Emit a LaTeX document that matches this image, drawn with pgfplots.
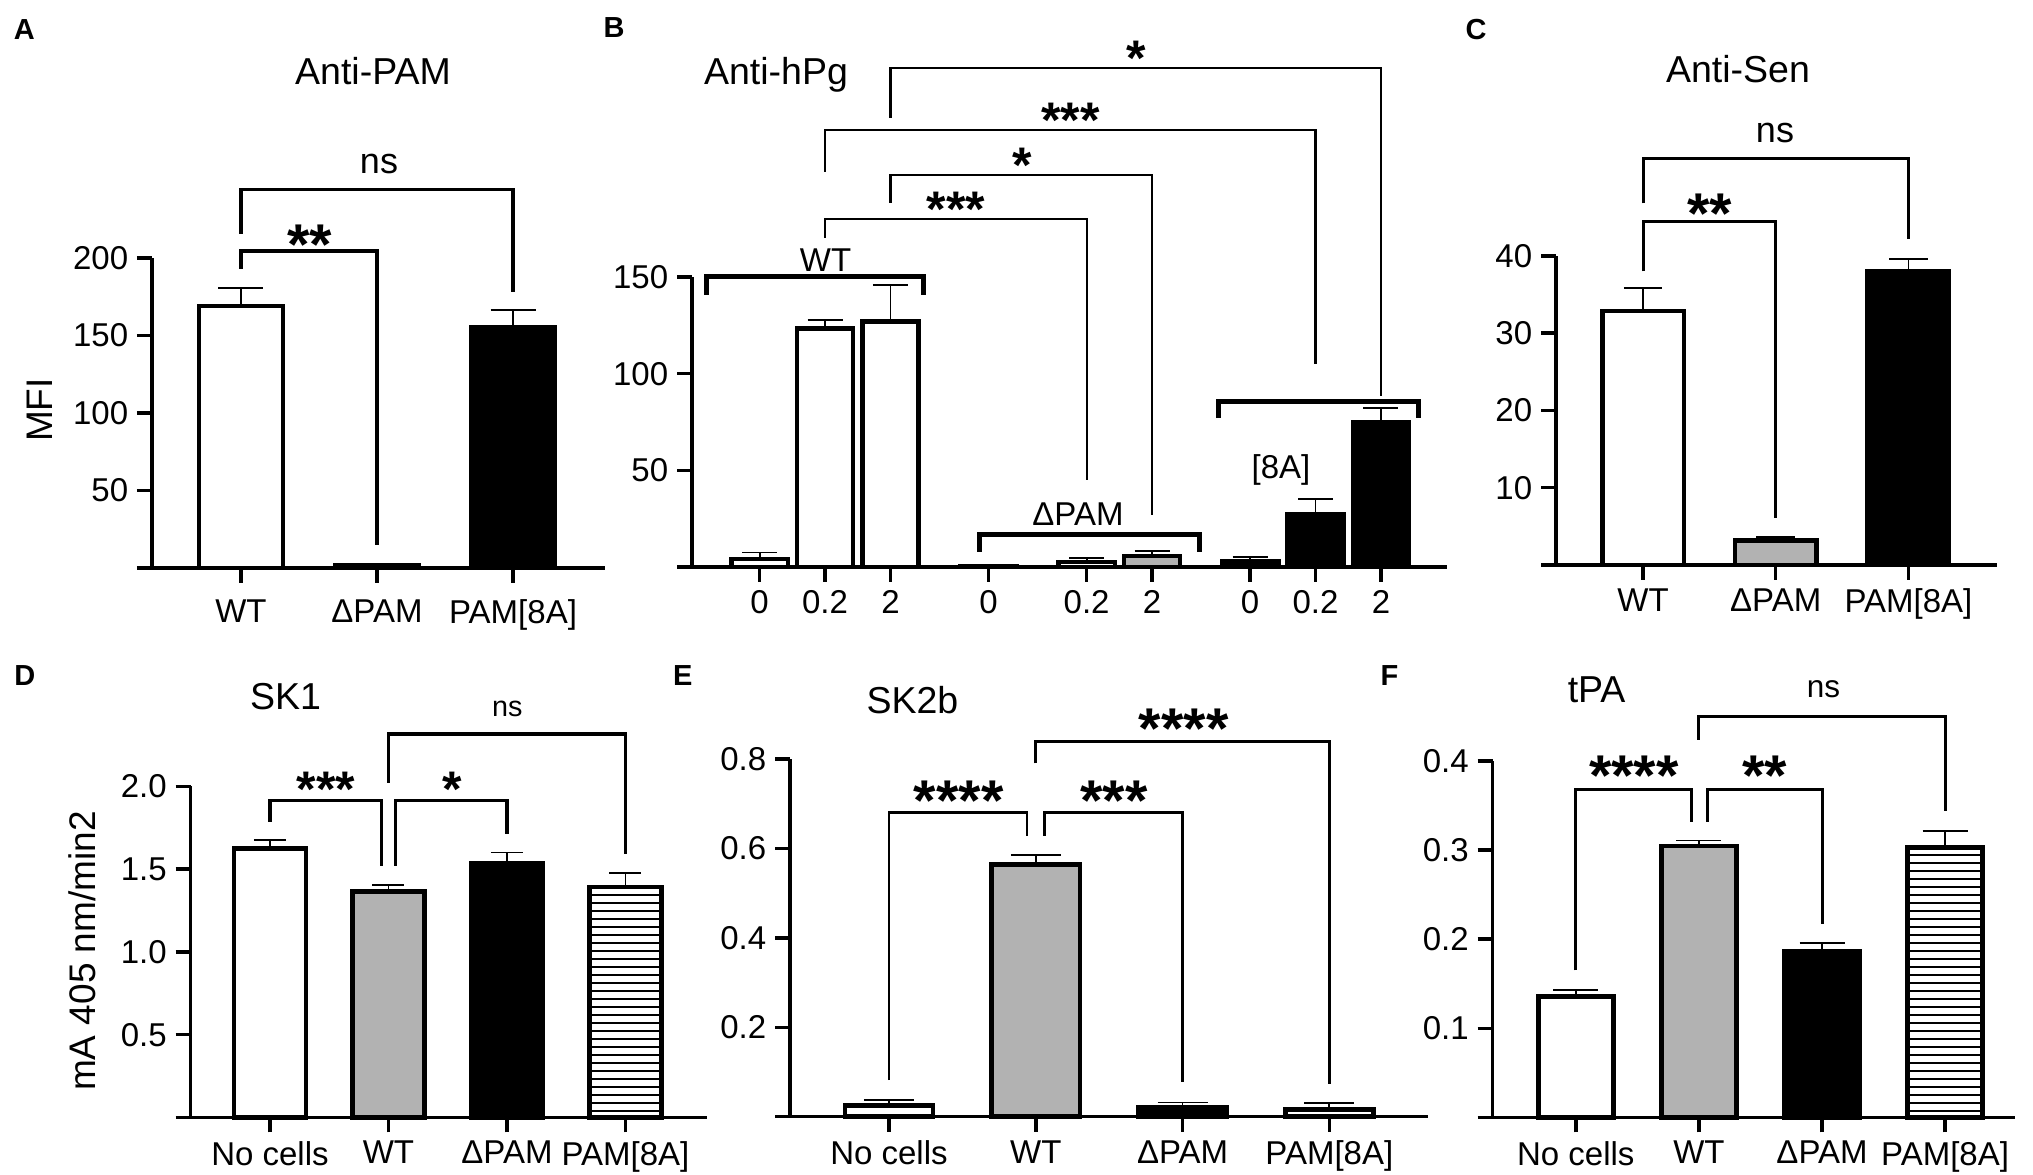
\documentclass[border=0pt]{standalone}
\usepackage{fontspec}
\setmainfont{Liberation Sans}
\usepackage{pgfplots}
\pgfplotsset{compat=1.18}
\usetikzlibrary{patterns.meta}
\definecolor{pgray}{RGB}{178,178,178}
\newcommand\tk{\fontsize{13.2}{15}\selectfont}
\newcommand\ttl{\fontsize{15}{17}\selectfont}
\newcommand\lett{\fontsize{11.6}{13}\selectfont\bfseries}
\newcommand\stL{\fontsize{23}{25}\selectfont\bfseries}
\newcommand\stS{\fontsize{20}{22}\selectfont\bfseries}
\pgfplotsset{
 prism/.style={
  anchor=south west, scale only axis, clip=false, enlargelimits=false,
  axis x line*=bottom, axis y line*=left,
  axis line style={line width=1.4pt, black},
  tick align=outside, major tick length=6pt,
  tick style={line width=1.4pt, black},
  ymin=0,
  tick label style={font=\tk},
  /pgf/number format/assume math mode=true,
 },
 pbar/.style={ybar, bar shift=0pt, draw=black, line width=1.8pt,
   /pgfplots/error bars/y dir=plus, /pgfplots/error bars/y explicit,
   /pgfplots/error bars/error bar style={line width=0.7pt, black, solid},
   /pgfplots/error bars/error mark=|,
   /pgfplots/error bars/error mark options={line width=0.7pt, mark size=#1, black}},
 stripes/.style={pattern={Lines[angle=0,distance=3.2pt,line width=0.6pt]}, pattern color=black},
}
\newcommand\ext{\draw[line width=1.4pt] (rel axis cs:0,0) -- ++(-6pt,0);}
\begin{document}
\begin{tikzpicture}
\useasboundingbox (0,0) rectangle (813.2pt,470pt);
% ---------------- A
\begin{axis}[prism, at={(60.8pt,242.8pt)}, width=181.2pt, height=124pt,
  xmin=-0.654, xmax=2.676, ymax=200,
  xtick={0,1,2}, xticklabels={WT,ΔPAM,PAM[8A]},
  xticklabel style={yshift=-3pt},
  ytick={0,50,100,150,200}, yticklabels={,50,100,150,200}]
\ext
\addplot[pbar=9pt, fill=white, bar width=0.615] coordinates {(0,169) +- (0,11.5)};
\addplot[pbar=9pt, fill=pgray, bar width=0.615] coordinates {(1,2) +- (0,0.8)};
\addplot[pbar=9pt, fill=black, bar width=0.615] coordinates {(2,155.5) +- (0,11)};
\draw[line width=1.25pt] (axis cs:0,193)--(axis cs:0,204.5)--(axis cs:1,204.5)--(axis cs:1,15);
\draw[line width=1.25pt] (axis cs:0,215.5)--(axis cs:0,244)--(axis cs:2,244)--(axis cs:2,178);
\end{axis}
% ---------------- B
\begin{axis}[prism, at={(276.8pt,243.2pt)}, width=302pt, height=116pt,
  xmin=-1.034, xmax=10.51, ymax=150,
  xtick={0,1,2,3.5,5,6,7.5,8.5,9.5}, xticklabels={0,0.2,2,0,0.2,2,0,0.2,2},
  ytick={0,50,100,150}, yticklabels={,50,100,150}]
\ext
\addplot[pbar=7pt, fill=white, bar width=0.86] coordinates {(0,4.1) +- (0,3.4)};
\addplot[pbar=7pt, fill=white, bar width=0.86] coordinates {(1,123.4) +- (0,4.2)};
\addplot[pbar=7pt, fill=white, bar width=0.86] coordinates {(2,127.1) +- (0,18.8)};
\addplot[pbar=7pt, fill=white, bar width=0.86] coordinates {(3.5,0.5) +- (0,0)};
\addplot[pbar=7pt, fill=white, bar width=0.86] coordinates {(5,2.6) +- (0,1.9)};
\addplot[pbar=7pt, fill=pgray, bar width=0.86] coordinates {(6,5.6) +- (0,2.5)};
\addplot[pbar=7pt, fill=black, bar width=0.86] coordinates {(7.5,3.1) +- (0,1.9)};
\addplot[pbar=7pt, fill=black, bar width=0.86] coordinates {(8.5,27.3) +- (0,7.7)};
\addplot[pbar=7pt, fill=black, bar width=0.86] coordinates {(9.5,75) +- (0,7.4)};
\draw[line width=2pt] (axis cs:-0.82,140.8)--(axis cs:-0.82,150)--(axis cs:2.5,150)--(axis cs:2.5,140.8);
\draw[line width=2pt] (axis cs:3.355,7.9)--(axis cs:3.355,16.6)--(axis cs:6.72,16.6)--(axis cs:6.72,7.9);
\draw[line width=2pt] (axis cs:7.02,77)--(axis cs:7.02,85.8)--(axis cs:10.07,85.8)--(axis cs:10.07,77);
\draw[line width=0.9pt] (axis cs:1,170.3)--(axis cs:1,179.8)--(axis cs:5,179.8)--(axis cs:5,45.2);
\draw[line width=0.9pt] (axis cs:2,188.4)--(axis cs:2,202.9)--(axis cs:6,202.9)--(axis cs:6,26.9);
\draw[line width=0.9pt] (axis cs:1,204.5)--(axis cs:1,225.9)--(axis cs:8.5,225.9)--(axis cs:8.5,105.1);
\draw[line width=0.9pt] (axis cs:2,232.4)--(axis cs:2,258.1)--(axis cs:9.5,258.1)--(axis cs:9.5,88.5);
\end{axis}
% ---------------- C
\begin{axis}[prism, at={(622.4pt,244pt)}, width=176.2pt, height=123.6pt,
  xmin=-0.656, xmax=2.664, ymax=40,
  xtick={0,1,2}, xticklabels={WT,ΔPAM,PAM[8A]},
  ytick={0,10,20,30,40}, yticklabels={,10,20,30,40}]
\ext
\addplot[pbar=7.7pt, fill=white, bar width=0.615] coordinates {(0,32.9) +- (0,3.0)};
\addplot[pbar=7.7pt, fill=pgray, bar width=0.615] coordinates {(1,3.2) +- (0,0.4)};
\addplot[pbar=7.7pt, fill=black, bar width=0.615] coordinates {(2,38.0) +- (0,1.6)};
\draw[line width=1.2pt] (axis cs:0,38.0)--(axis cs:0,44.46)--(axis cs:1,44.46)--(axis cs:1,6.1);
\draw[line width=1.2pt] (axis cs:0,46.8)--(axis cs:0,52.6)--(axis cs:2,52.6)--(axis cs:2,42.15);
\end{axis}
% ---------------- D
\begin{axis}[prism, at={(76.24pt,23.04pt)}, width=206.56pt, height=132.4pt,
  xmin=-0.67, xmax=3.688, ymax=2.0,
  xtick={0,1,2,3}, xticklabels={No cells,WT,ΔPAM,PAM[8A]},
  ytick={0,0.5,1.0,1.5,2.0}, yticklabels={,0.5,1.0,1.5,2.0}]
\ext
\addplot[pbar=6.4pt, fill=white, bar width=0.61] coordinates {(0,1.626) +- (0,0.049)};
\addplot[pbar=6.4pt, fill=pgray, bar width=0.61] coordinates {(1,1.366) +- (0,0.039)};
\addplot[pbar=6.4pt, fill=black, bar width=0.61] coordinates {(2,1.533) +- (0,0.067)};
\addplot[pbar=6.4pt, stripes, bar width=0.61] coordinates {(3,1.391) +- (0,0.086)};
\draw[line width=1.3pt] (axis cs:0,1.786)--(axis cs:0,1.915)--(axis cs:0.94,1.915)--(axis cs:0.94,1.519);
\draw[line width=1.3pt] (axis cs:1.06,1.519)--(axis cs:1.06,1.915)--(axis cs:2,1.915)--(axis cs:2,1.712);
\draw[line width=1.3pt] (axis cs:1,2.022)--(axis cs:1,2.317)--(axis cs:3,2.317)--(axis cs:3,1.59);
\end{axis}
% ---------------- E
\begin{axis}[prism, at={(316pt,23.32pt)}, width=255.2pt, height=143.08pt,
  xmin=-0.674, xmax=3.672, ymax=0.8,
  xtick={0,1,2,3}, xticklabels={No cells,WT,ΔPAM,PAM[8A]},
  ytick={0,0.2,0.4,0.6,0.8}, yticklabels={,0.2,0.4,0.6,0.8}]
\ext
\addplot[pbar=10pt, fill=white, bar width=0.6] coordinates {(0,0.025) +- (0,0.013)};
\addplot[pbar=10pt, fill=pgray, bar width=0.6] coordinates {(1,0.564) +- (0,0.021)};
\addplot[pbar=10pt, fill=black, bar width=0.6] coordinates {(2,0.021) +- (0,0.011)};
\addplot[pbar=10pt, stripes, bar width=0.6] coordinates {(3,0.016) +- (0,0.014)};
\draw[line width=1.1pt] (axis cs:0,0.0817)--(axis cs:0,0.6797)--(axis cs:0.94,0.6797)--(axis cs:0.94,0.628);
\draw[line width=1.1pt] (axis cs:1.06,0.628)--(axis cs:1.06,0.6797)--(axis cs:2,0.6797)--(axis cs:2,0.0776);
\draw[line width=1.1pt] (axis cs:1,0.790)--(axis cs:1,0.8396)--(axis cs:3,0.8396)--(axis cs:3,0.0738);
\end{axis}
% ---------------- F
\begin{axis}[prism, at={(597pt,23.04pt)}, width=209pt, height=142.6pt,
  xmin=-0.677, xmax=3.568, ymax=0.4,
  xtick={0,1,2,3}, xticklabels={No cells,WT,ΔPAM,PAM[8A]},
  ytick={0,0.1,0.2,0.3,0.4}, yticklabels={,0.1,0.2,0.3,0.4}]
\ext
\addplot[pbar=9pt, fill=white, bar width=0.61] coordinates {(0,0.1355) +- (0,0.0075)};
\addplot[pbar=9pt, fill=pgray, bar width=0.61] coordinates {(1,0.3045) +- (0,0.0063)};
\addplot[pbar=9pt, fill=black, bar width=0.61] coordinates {(2,0.1865) +- (0,0.0095)};
\addplot[pbar=9pt, stripes, bar width=0.61] coordinates {(3,0.303) +- (0,0.018)};
\draw[line width=1.2pt] (axis cs:0,0.1649)--(axis cs:0,0.3684)--(axis cs:0.94,0.3684)--(axis cs:0.94,0.3318);
\draw[line width=1.2pt] (axis cs:1.07,0.3318)--(axis cs:1.07,0.3684)--(axis cs:2,0.3684)--(axis cs:2,0.2174);
\draw[line width=1.2pt] (axis cs:1,0.4239)--(axis cs:1,0.4498)--(axis cs:3,0.4498)--(axis cs:3,0.3439);
\end{axis}
% ---------------- texts (in reference pixels)
\begin{scope}[x=0.4pt,y=0.4pt, every node/.style={inner sep=0pt}]
\node[anchor=base west, font=\lett] at (13.4,1135.6) {A};
\node[anchor=base west, font=\lett] at (603,1137.7) {B};
\node[anchor=base west, font=\lett] at (1465,1135.6) {C};
\node[anchor=base west, font=\lett] at (13.8,489.5) {D};
\node[anchor=base west, font=\lett] at (672.7,489.5) {E};
\node[anchor=base west, font=\lett] at (1380,489.5) {F};
\node[anchor=base, font=\ttl] at (373,1090) {Anti-PAM};
\node[anchor=base, font=\ttl] at (776,1090) {Anti-hPg};
\node[anchor=base, font=\ttl] at (1738,1092) {Anti-Sen};
\node[anchor=base, font=\ttl] at (285.6,465) {SK1};
\node[anchor=base, font=\ttl] at (912.4,461.2) {SK2b};
\node[anchor=base, font=\ttl] at (1596.6,472) {tPA};
\node[rotate=90, font=\fontsize{14.8}{16}\selectfont] at (40,765) {MFI};
\node[rotate=90, font=\fontsize{14.8}{16}\selectfont] at (82.7,224) {mA 405 nm/min2};
% stars / ns
\node[anchor=base, font=\stL] at (310,910.8) {**};
\node[anchor=base, font=\fontsize{14.4}{16}\selectfont] at (379,1001) {ns};
\node[anchor=base, font=\stL] at (1709.5,941.8) {**};
\node[anchor=base, font=\fontsize{14.4}{16}\selectfont] at (1775,1032) {ns};
\node[anchor=base, font=\stS] at (956,948) {***};
\node[anchor=base, font=\stS] at (1022,992.8) {*};
\node[anchor=base, font=\stS] at (1070.7,1037.2) {***};
\node[anchor=base, font=\stS] at (1136.7,1099.3) {*};
\node[anchor=base, font=\tk] at (825.6,903.5) {WT};
\node[anchor=base, font=\tk] at (1078,649) {ΔPAM};
\node[anchor=base, font=\tk] at (1281,696) {[8A]};
\node[anchor=base, font=\stS] at (326,368.8) {***};
\node[anchor=base, font=\stS] at (452,368.8) {*};
\node[anchor=base, font=\fontsize{11.5}{13}\selectfont] at (507.4,458.7) {ns};
\node[anchor=base, font=\stL] at (958.7,354.3) {****};
\node[anchor=base, font=\stL] at (1114,354.3) {***};
\node[anchor=base, font=\stL] at (1183.7,426.5) {****};
\node[anchor=base, font=\stL] at (1634,379.4) {****};
\node[anchor=base, font=\stL] at (1765,379.4) {**};
\node[anchor=base, font=\fontsize{12.6}{14}\selectfont] at (1823.6,477.1) {ns};
\end{scope}
\end{tikzpicture}
\end{document}
